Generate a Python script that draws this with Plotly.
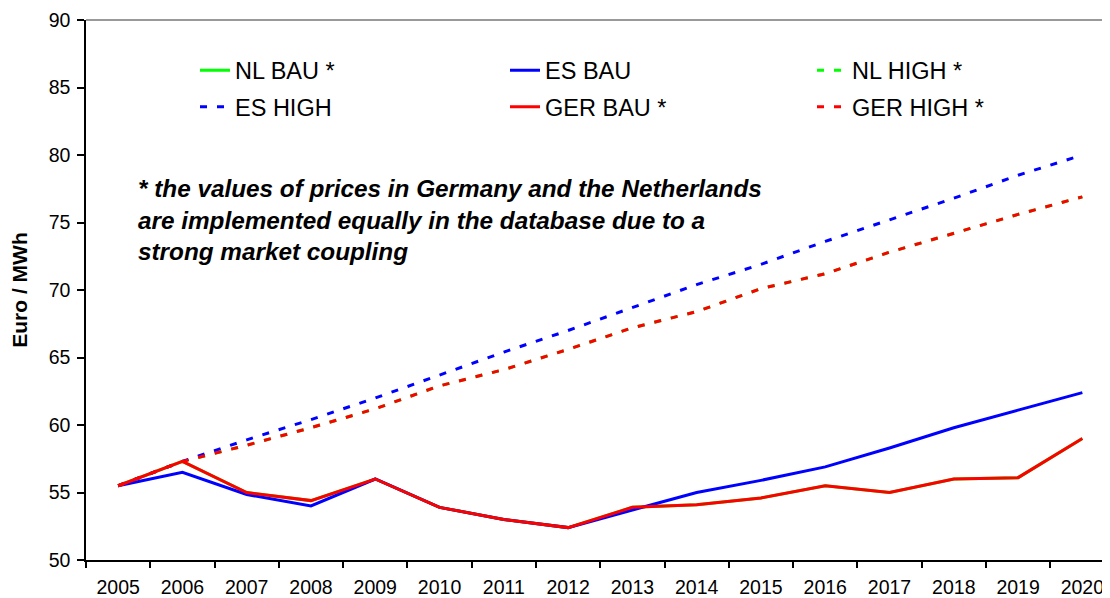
import plotly.graph_objects as go

years = [str(y) for y in range(2005, 2021)]

ger_bau = [55.5, 57.3, 55.0, 54.4, 56.0, 53.9, 53.0, 52.4, 53.9, 54.1, 54.6, 55.5, 55.0, 56.0, 56.1, 59.0]
nl_bau = list(ger_bau)  # implemented equally (market coupling)
es_bau = [55.5, 56.5, 54.85, 54.0, 56.0, 53.9, 53.0, 52.4, 53.7, 55.0, 55.9, 56.9, 58.3, 59.8, 61.1, 62.4]

ger_high = [55.5, 57.3, 58.5, 59.8, 61.2, 62.9, 64.1, 65.6, 67.2, 68.4, 70.1, 71.2, 72.8, 74.2, 75.6, 76.9]
nl_high = list(ger_high)
es_high = [55.5, 57.3, 58.9, 60.4, 62.0, 63.7, 65.4, 67.0, 68.7, 70.4, 71.9, 73.6, 75.2, 76.8, 78.5, 80.0]

note_lines = [
    "* the values of prices in Germany and the Netherlands",
    "are implemented equally in the database due to a",
    "strong market coupling",
]

GREEN = "#00FF00"
BLUE = "#0000FF"
RED = "#FF0000"
DASH = "7px,10px"

# (name, values, colour, dash, legend column)
series = [
    ("NL BAU *", nl_bau, GREEN, "solid", "legend"),
    ("ES BAU", es_bau, BLUE, "solid", "legend2"),
    ("NL HIGH *", nl_high, GREEN, DASH, "legend3"),
    ("ES HIGH", es_high, BLUE, DASH, "legend"),
    ("GER BAU *", ger_bau, RED, "solid", "legend2"),
    ("GER HIGH *", ger_high, RED, DASH, "legend3"),
]

fig = go.Figure()
for name, vals, col, dash, leg in series:
    fig.add_trace(go.Scatter(
        x=years, y=vals, name=name, mode="lines",
        line=dict(color=col, width=3, dash=dash),
        legend=leg, legendgroup=name,
    ))

FONT = "Liberation Sans, Arial, sans-serif"
legend_common = dict(
    orientation="v", xref="paper", yref="paper",
    xanchor="left", yanchor="middle",
    tracegroupgap=3,
    bgcolor="rgba(0,0,0,0)", borderwidth=0,
    font=dict(family=FONT, size=23.5, color="black"),
    itemclick=False, itemdoubleclick=False,
)
LY = (560 - 89) / 540

fig.update_layout(
    width=1102, height=590,
    margin=dict(l=78, r=0, t=12, b=38),
    paper_bgcolor="white", plot_bgcolor="white",
    font=dict(family=FONT, color="black"),
    showlegend=True,
    legend=dict(x=(195 - 86) / 1024, y=LY, **legend_common),
    legend2=dict(x=(505 - 86) / 1024, y=LY, **legend_common),
    legend3=dict(x=(812 - 86) / 1024, y=LY, **legend_common),
    xaxis=dict(
        type="category", range=[-0.5, 15.43],
        showline=True, linecolor="black", linewidth=1.5,
        ticks="outside", ticklen=6, tickcolor="black", tickwidth=1.5,
        tickson="boundaries", showgrid=False, zeroline=False,
        ticklabelstandoff=9,
        tickfont=dict(family=FONT, size=19.5, color="black"),
    ),
    yaxis=dict(
        range=[50, 90], dtick=5, tick0=50,
        showline=True, linecolor="black", linewidth=1.5,
        ticks="outside", ticklen=7, tickcolor="black", tickwidth=1.5,
        showgrid=False, zeroline=False,
        ticklabelstandoff=3,
        tickfont=dict(family=FONT, size=19.5, color="black"),
        title=dict(text="<b>Euro / MWh</b>", font=dict(family=FONT, size=21, color="black"), standoff=25),
    ),
)

# gray top border of the plot area
fig.add_shape(type="line", xref="paper", yref="paper", x0=0, x1=1, y0=1, y1=1,
              line=dict(color="#999999", width=2))

fig.add_annotation(
    xref="paper", yref="paper", x=(136 - 86) / 1024, y=(560 - 220) / 540,
    xanchor="left", yanchor="middle", align="left", showarrow=False,
    text="<br>".join(f"<b><i>{t}</i></b>" for t in note_lines),
    font=dict(family=FONT, size=24.3, color="black"),
)

fig.write_html("out.html")
